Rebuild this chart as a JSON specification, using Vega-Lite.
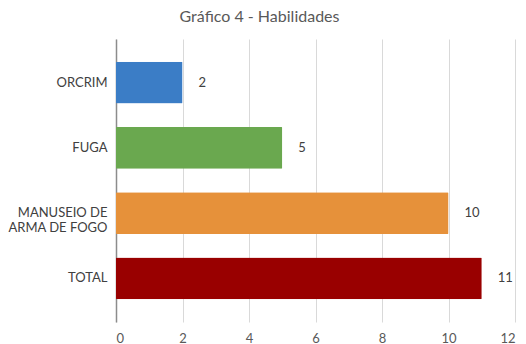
{
  "$schema": "https://vega.github.io/schema/vega-lite/v6.json",
  "width": 399,
  "height": 283,
  "autosize": {"type": "none"},
  "padding": {"left": 116, "top": 39, "right": 11, "bottom": 22},
  "background": "white",
  "title": {
    "text": "Gráfico 4 - Habilidades",
    "font": "Lato",
    "fontSize": 16,
    "fontWeight": "normal",
    "color": "#595959",
    "offset": 14,
    "dx": -56
  },
  "config": {
    "view": {"stroke": null},
    "font": "Lato"
  },
  "data": {
    "values": [
      {"habilidade": "ORCRIM", "quantidade": 2, "cor": "#3B7DC6"},
      {"habilidade": "FUGA", "quantidade": 5, "cor": "#6AA84F"},
      {"habilidade": "MANUSEIO DE ARMA DE FOGO", "quantidade": 10, "cor": "#E6913A"},
      {"habilidade": "TOTAL", "quantidade": 11, "cor": "#990000"}
    ]
  },
  "encoding": {
    "y": {
      "field": "habilidade",
      "type": "nominal",
      "sort": null,
      "title": null,
      "scale": {"paddingInner": 0.36, "paddingOuter": 0.35},
      "axis": {
        "domain": true,
        "domainColor": "#8C8C8C",
        "domainWidth": 1.5,
        "ticks": false,
        "labelPadding": 9,
        "labelFontSize": 13,
        "labelColor": "#404040",
        "labelLineHeight": 15,
        "labelExpr": "datum.value == 'MANUSEIO DE ARMA DE FOGO' ? ['MANUSEIO DE', 'ARMA DE FOGO'] : datum.value"
      }
    },
    "x": {
      "field": "quantidade",
      "type": "quantitative",
      "title": null,
      "scale": {"domain": [0, 12], "nice": false},
      "axis": {
        "values": [0, 2, 4, 6, 8, 10, 12],
        "domain": false,
        "ticks": false,
        "grid": true,
        "gridColor": "#D9D9D9",
        "gridWidth": 1,
        "labelPadding": 10,
        "labelFontSize": 13,
        "labelColor": "#595959"
      }
    }
  },
  "layer": [
    {
      "mark": {"type": "bar", "cornerRadius": 1},
      "encoding": {
        "color": {"field": "cor", "type": "nominal", "scale": null, "legend": null}
      }
    },
    {
      "mark": {"type": "text", "align": "left", "dx": 16, "fontSize": 13, "color": "#404040", "font": "Lato"},
      "encoding": {
        "text": {"field": "quantidade", "type": "quantitative"}
      }
    }
  ]
}
